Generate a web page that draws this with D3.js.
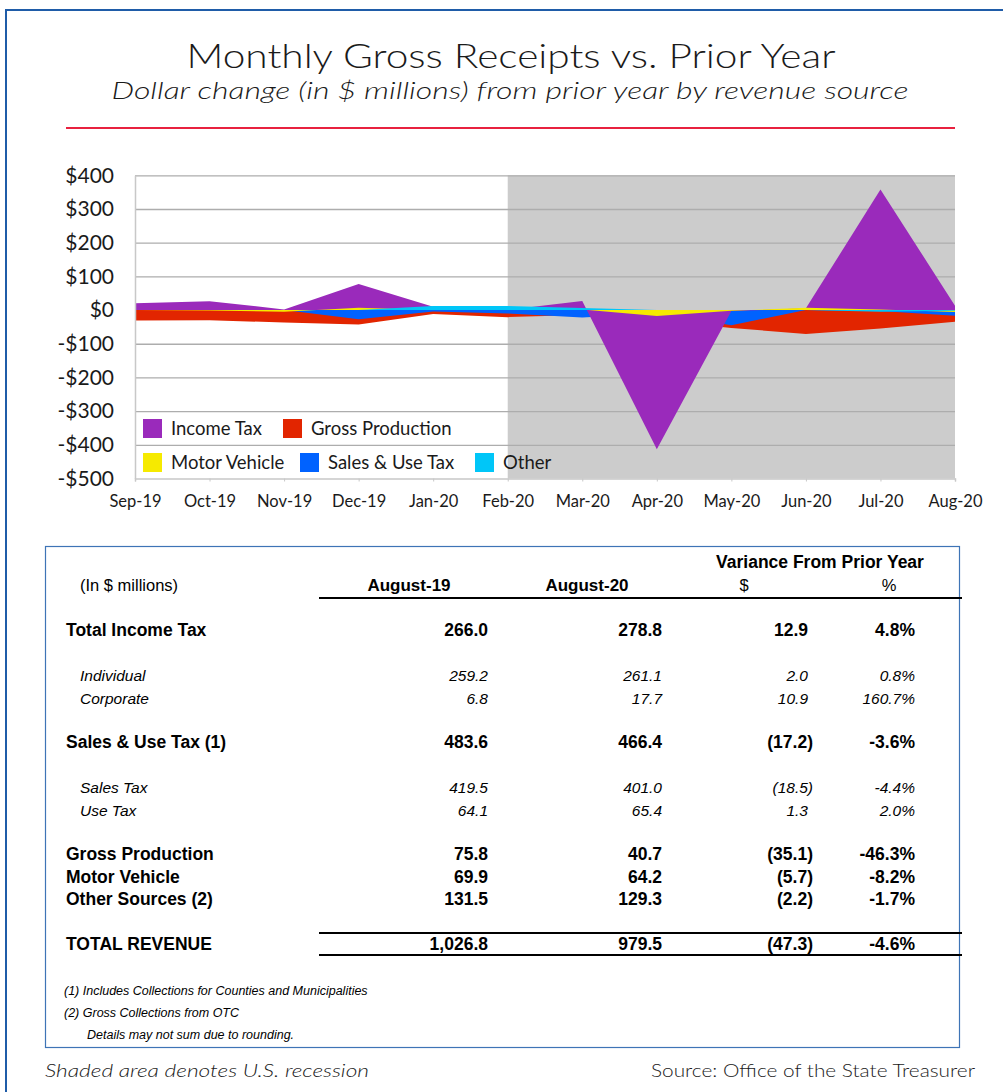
<!DOCTYPE html>
<html>
<head>
<meta charset="utf-8">
<script src="https://cdn.jsdelivr.net/npm/d3@7"></script>
<style>
  body { margin: 0; background: #fff; }
  svg { display: block; }
  .chartText { font-family: Lato, "Noto Sans", sans-serif; fill: #1a1a1a; font-weight: 300; }
  .axisText { font-family: Lato, "Noto Sans", sans-serif; fill: #1a1a1a; font-weight: 400; }
  .tableText { font-family: "Liberation Sans", Arial, sans-serif; fill: #000; }
</style>
</head>
<body>
<svg id="chart" width="1003" height="1092"></svg>
<script>
//#region DATA ////////////////////////////////////////////////////////////////

// months on the x axis
const months = ["Sep-19", "Oct-19", "Nov-19", "Dec-19", "Jan-20", "Feb-20",
                "Mar-20", "Apr-20", "May-20", "Jun-20", "Jul-20", "Aug-20"];

// dollar change from prior year, $ millions
const incomeTax       = [20, 26, 2, 77, 10, 1, 27, -413, -3, 5, 358, 13];
const grossProduction = [-31, -30, -37, -43, -12, -21, -15, -30, -53, -71, -55, -35];
const motorVehicle    = [0, -1, -5, 7, 0, 0, 2, -18, -2, 7, 2, -6];
const salesUseTax     = [2, 2, 0, -27, -4, -10, -22, -10, -45, 0, -3, -17];
const otherSources    = [0, 0, 0, 0, 12, 12, 6, 0, 0, 0, -5, -2];

const yTicks = [400, 300, 200, 100, 0, -100, -200, -300, -400, -500];
const recessionMonths = ["Feb-20", "Aug-20"];

// table
const rowLabels = ["Total Income Tax", "Individual", "Corporate",
                   "Sales & Use Tax (1)", "Sales Tax", "Use Tax",
                   "Gross Production", "Motor Vehicle", "Other Sources (2)",
                   "TOTAL REVENUE"];
const rowKinds  = ["main", "sub", "sub", "main", "sub", "sub",
                   "main", "main", "main", "total"];
const aug19     = ["266.0", "259.2", "6.8", "483.6", "419.5", "64.1",
                   "75.8", "69.9", "131.5", "1,026.8"];
const aug20     = ["278.8", "261.1", "17.7", "466.4", "401.0", "65.4",
                   "40.7", "64.2", "129.3", "979.5"];
const varDollar = ["12.9", "2.0", "10.9", "(17.2)", "(18.5)", "1.3",
                   "(35.1)", "(5.7)", "(2.2)", "(47.3)"];
const varPct    = ["4.8%", "0.8%", "160.7%", "-3.6%", "-4.4%", "2.0%",
                   "-46.3%", "-8.2%", "-1.7%", "-4.6%"];
const footnotes = ["(1) Includes Collections for Counties and Municipalities",
                   "(2) Gross Collections from OTC",
                   "Details may not sum due to rounding."];

//#endregion

//#region LAYOUT ///////////////////////////////////////////////////////////////

const PLOT_LEFT = 135, PLOT_RIGHT = 955, PLOT_TOP = 175.3, PLOT_BOTTOM = 478.5;

// series in draw order (later ones on top)
const series = [
  { name: "Gross Production", values: grossProduction, color: "#E22500" },
  { name: "Sales & Use Tax",  values: salesUseTax,     color: "#0062FF" },
  { name: "Income Tax",       values: incomeTax,       color: "#9A2ABB" },
  { name: "Motor Vehicle",    values: motorVehicle,    color: "#F6EA00" },
  { name: "Other",            values: otherSources,    color: "#00C6F8" }
];
const colorOf = n => series.find(s => s.name == n).color;

const svg = d3.select("#chart");

//#endregion

//#region FRAME + TITLES ///////////////////////////////////////////////////////

svg.append("path")
    .attr("d", "M6,1092 V10 H1003")
    .attr("fill", "none")
    .attr("stroke", "#1F5CA8")
    .attr("stroke-width", 2);

svg.append("text")
    .attr("class", "chartText")
    .attr("x", 511).attr("y", 68)
    .attr("text-anchor", "middle")
    .attr("font-size", 33)
    .attr("textLength", 649).attr("lengthAdjust", "spacingAndGlyphs")
    .text("Monthly Gross Receipts vs. Prior Year");

svg.append("text")
    .attr("class", "chartText")
    .attr("x", 510).attr("y", 99)
    .attr("text-anchor", "middle")
    .attr("font-size", 24)
    .attr("font-style", "italic")
    .attr("textLength", 797).attr("lengthAdjust", "spacingAndGlyphs")
    .text("Dollar change (in $ millions) from prior year by revenue source");

svg.append("line")
    .attr("x1", 66).attr("x2", 955)
    .attr("y1", 128).attr("y2", 128)
    .attr("stroke", "#E8213F")
    .attr("stroke-width", 2);

//#endregion

//#region CHART ////////////////////////////////////////////////////////////////

const x = d3.scalePoint().domain(months).range([PLOT_LEFT, PLOT_RIGHT]);
const y = d3.scaleLinear().domain([-500, 400]).range([PLOT_BOTTOM, PLOT_TOP]);

// recession shading
svg.append("rect")
    .attr("x", x(recessionMonths[0]))
    .attr("y", PLOT_TOP)
    .attr("width", x(recessionMonths[1]) - x(recessionMonths[0]))
    .attr("height", PLOT_BOTTOM - PLOT_TOP)
    .attr("fill", "#CCCCCC");

// gridlines
svg.append("g")
    .attr("transform", "translate(" + PLOT_LEFT + ",0)")
    .call(d3.axisLeft(y).tickValues(yTicks.filter(d => d > -500))
              .tickSize(-(PLOT_RIGHT - PLOT_LEFT)).tickFormat(""))
    .call(g => g.select(".domain").remove())
    .call(g => g.selectAll("line").attr("stroke", "#ADADAD").attr("stroke-width", 1.3));

// the areas
let gen = d3.area()
    .x((_d, i) => x(months[i]))
    .y0(y(0))
    .y1(d => y(d));

svg.append("g").selectAll("path").data(series).join("path")
    .attr("d", s => gen(s.values))
    .attr("fill", s => s.color);

// y axis
svg.append("g")
    .attr("transform", "translate(" + PLOT_LEFT + ",0)")
    .call(d3.axisLeft(y).tickValues(yTicks).tickSize(0).tickPadding(21)
              .tickFormat(d => (d < 0 ? "-$" : "$") + Math.abs(d)))
    .call(g => g.select(".domain").attr("stroke", "#C8C8C8").attr("stroke-width", 1.5))
    .call(g => g.selectAll("text")
                  .attr("class", "axisText")
                  .attr("font-size", 21)
                  .attr("fill", "#1a1a1a"));

// x axis
svg.append("g")
    .attr("transform", "translate(0," + PLOT_BOTTOM + ")")
    .call(d3.axisBottom(x).tickSize(3).tickPadding(14))
    .call(g => g.select(".domain").attr("stroke", "#C8C8C8").attr("stroke-width", 1.5))
    .call(g => g.selectAll("line").attr("stroke", "#C8C8C8"))
    .call(g => g.selectAll("text")
                  .attr("class", "axisText")
                  .attr("font-size", 16.5)
                  .attr("fill", "#1a1a1a"));

// legend, two rows inside the plot
const legendItems = [
  { name: "Income Tax",       x: 143, y: 419 },
  { name: "Gross Production", x: 283, y: 419 },
  { name: "Motor Vehicle",    x: 143, y: 453 },
  { name: "Sales & Use Tax",  x: 300, y: 453 },
  { name: "Other",            x: 475, y: 453 }
];
let leg = svg.append("g").selectAll("g").data(legendItems).join("g")
    .attr("transform", d => "translate(" + d.x + "," + d.y + ")");
leg.append("rect")
    .attr("width", 19).attr("height", 19)
    .attr("fill", d => colorOf(d.name));
leg.append("text")
    .attr("class", "axisText")
    .attr("x", 28).attr("y", 16)
    .attr("font-size", 18.5)
    .text(d => d.name);

//#endregion

//#region TABLE ////////////////////////////////////////////////////////////////

svg.append("rect")
    .attr("x", 45.5).attr("y", 546.5)
    .attr("width", 914).attr("height", 501)
    .attr("fill", "none")
    .attr("stroke", "#3E74B6")
    .attr("stroke-width", 1.2);

const tbl = svg.append("g").attr("class", "tableText");

const COL_A19 = 488, COL_A20 = 662, COL_VAR = 808, COL_PCT = 915;

// header
tbl.append("text").attr("x", 820).attr("y", 568).attr("text-anchor", "middle")
    .attr("font-size", 17.5).attr("font-weight", "bold").text("Variance From Prior Year");
tbl.append("text").attr("x", 80).attr("y", 591)
    .attr("font-size", 16.5).text("(In $ millions)");
tbl.append("text").attr("x", 409).attr("y", 591).attr("text-anchor", "middle")
    .attr("font-size", 17).attr("font-weight", "bold").text("August-19");
tbl.append("text").attr("x", 587).attr("y", 591).attr("text-anchor", "middle")
    .attr("font-size", 17).attr("font-weight", "bold").text("August-20");
tbl.append("text").attr("x", 744).attr("y", 591).attr("text-anchor", "middle")
    .attr("font-size", 16.5).text("$");
tbl.append("text").attr("x", 889).attr("y", 591).attr("text-anchor", "middle")
    .attr("font-size", 16.5).text("%");

const rules = [598, 933, 955];
tbl.selectAll("line.rule").data(rules).join("line")
    .attr("class", "rule")
    .attr("x1", 319).attr("x2", 962)
    .attr("y1", d => d).attr("y2", d => d)
    .attr("stroke", "#000")
    .attr("stroke-width", 2);

const rowY = [636, 681, 704, 748, 793, 816, 860, 883, 905, 950];

let rows = tbl.selectAll("g.row").data(rowLabels).join("g")
    .attr("class", "row")
    .attr("transform", (_d, i) => "translate(0," + rowY[i] + ")")
    .attr("font-size", (_d, i) => rowKinds[i] == "sub" ? 15.5 : 17.5)
    .attr("font-weight", (_d, i) => rowKinds[i] == "sub" ? "normal" : "bold")
    .attr("font-style", (_d, i) => rowKinds[i] == "sub" ? "italic" : "normal");

rows.append("text")
    .attr("x", (_d, i) => rowKinds[i] == "sub" ? 80 : 66)
    .text(d => d);
rows.append("text").attr("x", COL_A19).attr("text-anchor", "end")
    .text((_d, i) => aug19[i]);
rows.append("text").attr("x", COL_A20).attr("text-anchor", "end")
    .text((_d, i) => aug20[i]);
rows.append("text")
    .attr("x", (_d, i) => varDollar[i].startsWith("(") ? COL_VAR + 5 : COL_VAR)
    .attr("text-anchor", "end")
    .text((_d, i) => varDollar[i]);
rows.append("text").attr("x", COL_PCT).attr("text-anchor", "end")
    .text((_d, i) => varPct[i]);

// footnotes
tbl.selectAll("text.note").data(footnotes).join("text")
    .attr("class", "note")
    .attr("x", (_d, i) => i == 2 ? 87 : 64)
    .attr("y", (_d, i) => 995 + i * 22)
    .attr("font-size", 12.5)
    .attr("font-style", "italic")
    .text(d => d);

//#endregion

//#region FOOTER ///////////////////////////////////////////////////////////////

svg.append("text")
    .attr("class", "chartText")
    .attr("x", 45).attr("y", 1077)
    .attr("font-size", 18)
    .attr("font-style", "italic")
    .attr("textLength", 324).attr("lengthAdjust", "spacingAndGlyphs")
    .text("Shaded area denotes U.S. recession");

svg.append("text")
    .attr("class", "chartText")
    .attr("x", 975).attr("y", 1077)
    .attr("text-anchor", "end")
    .attr("font-size", 18)
    .attr("textLength", 324).attr("lengthAdjust", "spacingAndGlyphs")
    .text("Source: Office of the State Treasurer");

//#endregion
</script>
</body>
</html>
